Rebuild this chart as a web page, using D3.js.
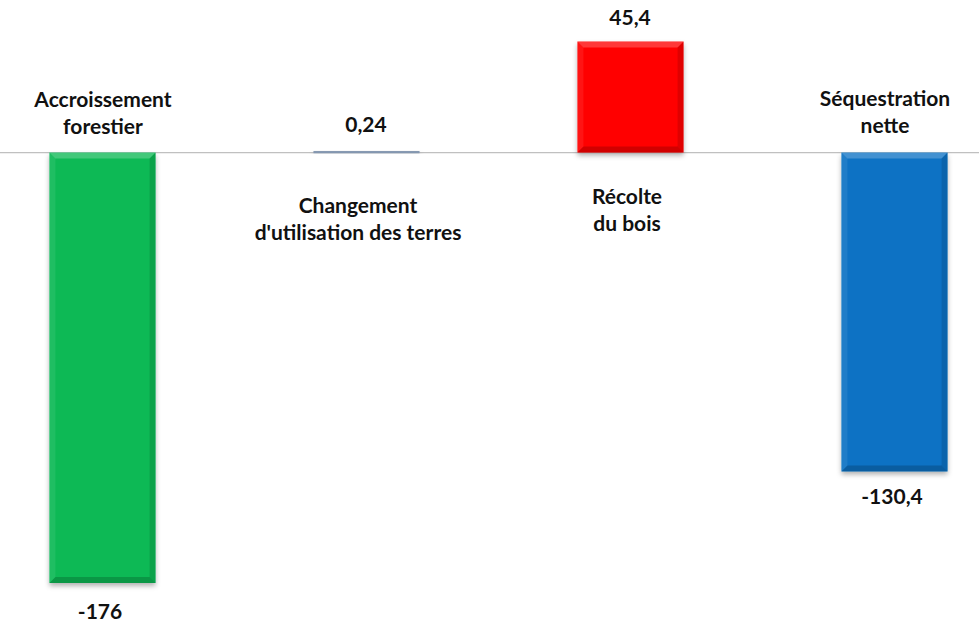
<!DOCTYPE html>
<html><head><meta charset="utf-8">
<script src="https://cdn.jsdelivr.net/npm/d3@7/dist/d3.min.js"></script>
<style>body{margin:0;background:#fff}svg{display:block}</style>
</head><body>
<script>
const categories = ["Accroissement forestier", "Changement d'utilisation des terres", "Récolte du bois", "Séquestration nette"];
const values = [-176, 0.24, 45.4, -130.4];
const valueLabels = ["-176", "0,24", "45,4", "-130,4"];
const categoryLines = [["Accroissement", "forestier"], ["Changement", "d'utilisation des terres"], ["Récolte", "du bois"], ["Séquestration", "nette"]];
const colors = ["#0cb955", "#8497b0", "#ff0000", "#0872c4"];

const W = 979, H = 627;
const svg = d3.select("body").append("svg").attr("width", W).attr("height", H);
const defs = svg.append("defs");
const f = defs.append("filter").attr("id", "sh").attr("x", "-20%").attr("y", "-20%").attr("width", "140%").attr("height", "140%");
f.append("feDropShadow").attr("dx", 0).attr("dy", 3).attr("stdDeviation", 2.5).attr("flood-color", "#000").attr("flood-opacity", 0.3);

const x = d3.scaleBand().domain(categories).range([-29.5, 1026.5]).paddingInner(0.598).paddingOuter(0.299);
const y = d3.scaleLinear().domain([-176, 45.4]).range([583, 41.5]);
const y0 = y(0);

svg.append("line").attr("x1", 0).attr("x2", W).attr("y1", y0).attr("y2", y0).attr("stroke", "#c0c0c0").attr("stroke-width", 1.3);

const g = svg.selectAll("g.bar").data(categories).enter().append("g");
g.each(function (c, i) {
  const gg = d3.select(this);
  const v = values[i];
  const bx = x(c), bw = x.bandwidth();
  const top = Math.min(y(v), y0), bot = Math.max(y(v), y0);
  const h = Math.max(bot - top, 1.6);
  if (Math.abs(v) < 1) {
    gg.append("rect").attr("x", bx).attr("y", y0 - 1.5).attr("width", bw).attr("height", 2.2)
      .attr("fill", colors[i]).attr("filter", "url(#sh)");
    return;
  }
  gg.append("rect").attr("x", bx).attr("y", top).attr("width", bw).attr("height", h)
    .attr("fill", colors[i]).attr("filter", "url(#sh)");
  const b = 6;
  const x1 = bx, x2 = bx + bw, y1 = top, y2 = top + h;
  gg.append("path").attr("d", `M${x1},${y1}L${x2},${y1}L${x2-b},${y1+b}L${x1+b},${y1+b}Z`).attr("fill", "#fff").attr("opacity", 0.22);
  gg.append("path").attr("d", `M${x1},${y1}L${x1+b},${y1+b}L${x1+b},${y2-b}L${x1},${y2}Z`).attr("fill", "#fff").attr("opacity", 0.08);
  gg.append("path").attr("d", `M${x2},${y1}L${x2},${y2}L${x2-b},${y2-b}L${x2-b},${y1+b}Z`).attr("fill", "#000").attr("opacity", 0.12);
  gg.append("path").attr("d", `M${x1},${y2}L${x2},${y2}L${x2-b},${y2-b}L${x1+b},${y2-b}Z`).attr("fill", "#000").attr("opacity", 0.18);
});

const font = "Lato, 'Open Sans', sans-serif";
const fs = 21;
const valPos = [[100, 612], [366, 125], [630, 18], [892, 497]];
svg.selectAll("text.val").data(valueLabels).enter().append("text")
  .attr("x", (d, i) => valPos[i][0])
  .attr("y", (d, i) => valPos[i][1]).attr("dy", "0.35em")
  .attr("text-anchor", "middle").attr("font-family", font).attr("font-weight", "bold").attr("font-size", fs)
  .attr("fill", "#111").text(d => d);

const catPos = [[103, 100], [358, 206], [627, 197], [885, 99]];
categoryLines.forEach((lines, i) => {
  lines.forEach((ln, j) => {
    svg.append("text").attr("x", catPos[i][0]).attr("y", catPos[i][1] + j * 27).attr("dy", "0.35em")
      .attr("text-anchor", "middle").attr("font-family", font).attr("font-weight", "bold").attr("font-size", fs)
      .attr("fill", "#111").text(ln);
  });
});
</script>
</body></html>
